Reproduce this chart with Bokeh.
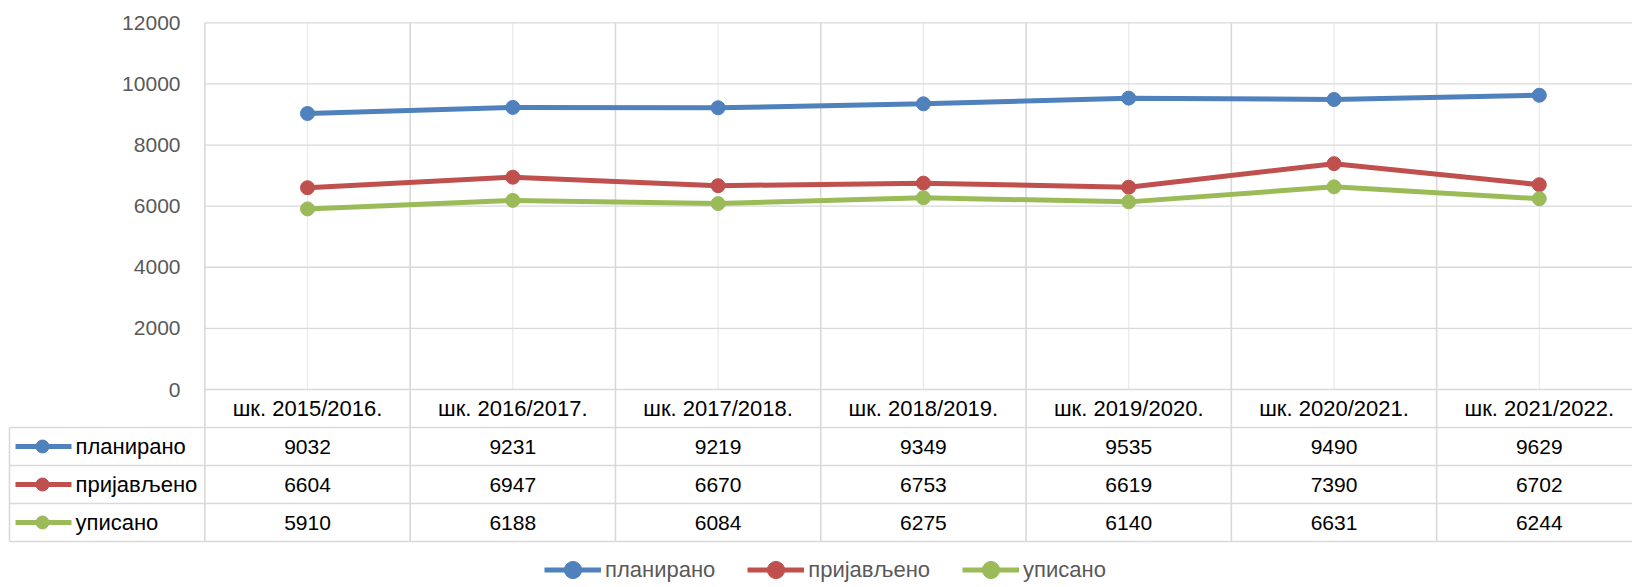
from bokeh.plotting import figure
from bokeh.models import Range1d, Legend, LegendItem
from bokeh.embed import file_html
from bokeh.resources import INLINE
from bokeh.core.properties import value

# ---------------- data ----------------
categories = ["шк. 2015/2016.", "шк. 2016/2017.", "шк. 2017/2018.", "шк. 2018/2019.",
              "шк. 2019/2020.", "шк. 2020/2021.", "шк. 2021/2022."]
planned = [9032, 9231, 9219, 9349, 9535, 9490, 9629]
applied = [6604, 6947, 6670, 6753, 6619, 7390, 6702]
enrolled = [5910, 6188, 6084, 6275, 6140, 6631, 6244]
series_names = ["планирано", "пријављено", "уписано"]
series_values = [planned, applied, enrolled]
y_ticks = [0, 2000, 4000, 6000, 8000, 10000, 12000]

# ---------------- styles / layout (canvas pixels) ----------------
colors = ["#4F81BD", "#C0504D", "#9BBB59"]
FONT = value("Liberation Sans")
W, H = 1632, 587
CAT0_PX = 307.0      # center of first category
CAT_W = 205.3        # width of a category column
Y0_PX = 389.0        # y of value 0
Y_TOP_PX = 22.3      # y of max value
Y_MAX = 12000
ROW_H = 38.0
GRID = "#D9D9D9"

x_start = -CAT0_PX / CAT_W
x_end = (W - CAT0_PX) / CAT_W
ppu = (Y0_PX - Y_TOP_PX) / Y_MAX
y_end = Y_MAX + Y_TOP_PX / ppu
y_start = -(H - Y0_PX) / ppu


def xpx(px):
    return (px - CAT0_PX) / CAT_W


def ypx(px):
    return (Y0_PX - px) / ppu


n = len(categories)
xs = list(range(n))

p = figure(width=W, height=H, x_range=Range1d(x_start, x_end), y_range=Range1d(y_start, y_end),
           output_backend="svg", toolbar_location=None, min_border=0,
           x_axis_type=None, y_axis_type=None)
p.grid.visible = False
p.outline_line_color = None
p.background_fill_color = "white"
p.border_fill_color = "white"

row_y = [ypx(Y0_PX + r * ROW_H) for r in range(5)]  # table row boundaries
x_right = n - 0.5

# category-center light gridlines
p.segment(x0=xs, x1=xs, y0=[0] * n, y1=[Y_MAX] * n, line_color="#EBEBEB", line_width=1.3)
# horizontal value gridlines
p.segment(x0=[-0.5] * len(y_ticks), x1=[x_right] * len(y_ticks), y0=y_ticks, y1=y_ticks,
          line_color=GRID, line_width=1.3)
# column boundaries (plot + table)
bx = [i - 0.5 for i in range(n + 1)]
p.segment(x0=bx, x1=bx, y0=[Y_MAX] * len(bx), y1=[row_y[4]] * len(bx), line_color=GRID, line_width=1.6)
# table horizontal lines
tl = xpx(9)
p.segment(x0=[tl] * 4, x1=[x_right] * 4, y0=row_y[1:], y1=row_y[1:], line_color=GRID, line_width=1.6)
p.segment(x0=[tl], x1=[tl], y0=[row_y[1]], y1=[row_y[4]], line_color=GRID, line_width=1.6)

# y tick labels
p.text(x=[xpx(180)] * len(y_ticks), y=y_ticks, text=[str(t) for t in y_ticks],
       text_align="right", text_baseline="middle", text_font=FONT, text_font_size="21px",
       text_color="#595959")

# header labels
hy = (row_y[0] + row_y[1]) / 2
p.text(x=xs, y=[hy] * n, text=categories, text_align="center", text_baseline="middle",
       text_font=FONT, text_font_size="22px", text_color="#000000")

items = []
for k, (name, vals, col) in enumerate(zip(series_names, series_values, colors)):
    lr = p.line(xs, vals, line_color=col, line_width=5)
    sr = p.scatter(xs, vals, size=14, fill_color=col, line_color=col)
    items.append(LegendItem(label=name, renderers=[lr, sr]))
    cy = (row_y[k + 1] + row_y[k + 2]) / 2
    # table legend key
    p.line([xpx(15), xpx(71)], [cy, cy], line_color=col, line_width=5)
    p.scatter([xpx(42)], [cy], size=13, fill_color=col, line_color=col)
    p.text(x=[xpx(75)], y=[cy], text=[name], text_align="left", text_baseline="middle",
           text_font=FONT, text_font_size="22px", text_color="#000000")
    # values
    p.text(x=xs, y=[cy] * n, text=[str(v) for v in vals], text_align="center",
           text_baseline="middle", text_font=FONT, text_font_size="21px", text_color="#000000")

legend = Legend(items=items, orientation="horizontal", location=(544, -4),
                glyph_width=57, glyph_height=43, label_standoff=4, spacing=32,
                padding=0, margin=0, border_line_alpha=0, background_fill_alpha=0,
                label_text_font="Liberation Sans", label_text_font_size="22px",
                label_text_color="#595959")
p.add_layout(legend)

open("out.html", "w").write(file_html(p, INLINE))
